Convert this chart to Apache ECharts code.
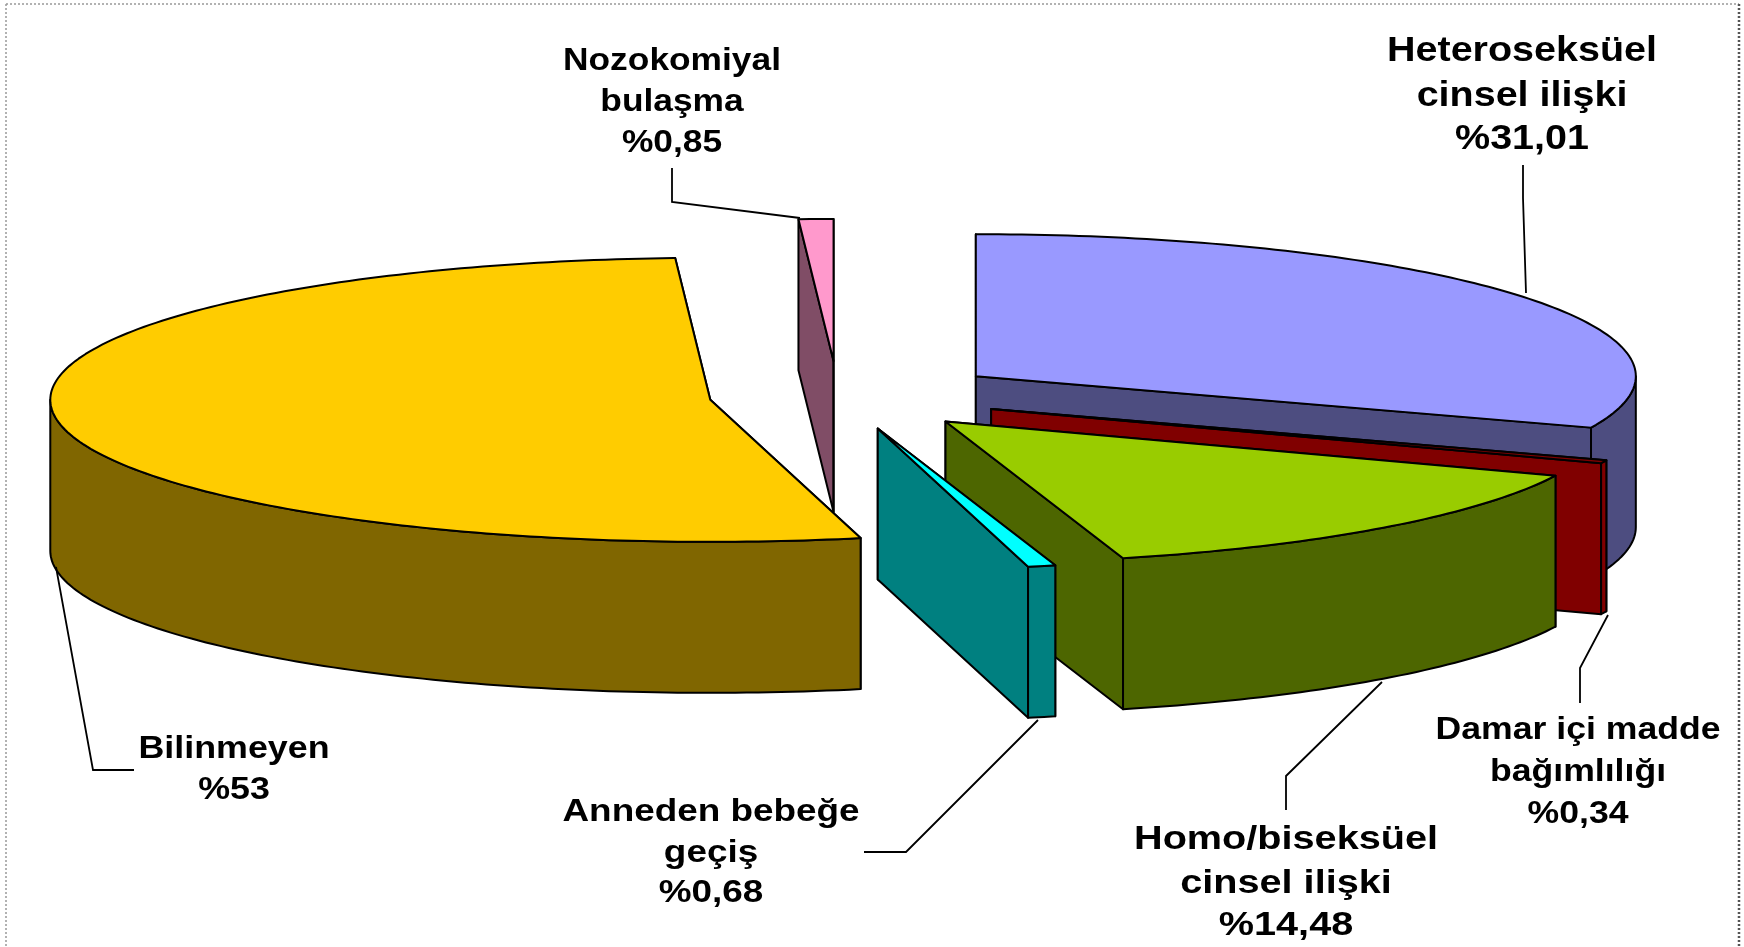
<!DOCTYPE html>
<html><head><meta charset="utf-8">
<style>html,body{margin:0;padding:0;background:#fff}#c{width:1744px;height:947px}</style>
<script src="https://cdn.jsdelivr.net/npm/echarts@6/dist/echarts.min.js"></script>
</head><body><div id="c"></div>
<script>
// ---- data (pie order, clockwise from 12 o'clock) ----
const categories = ['Heteroseksüel cinsel ilişki','Damar içi madde bağımlılığı','Homo/biseksüel cinsel ilişki','Anneden bebeğe geçiş','Bilinmeyen','Nozokomiyal bulaşma'];
const shares = [31.01, 0.34, 14.48, 0.68, 53, 0.85];
const labelLines = [
  ['Heteroseksüel','cinsel ilişki','%31,01'],
  ['Damar içi madde','bağımlılığı','%0,34'],
  ['Homo/biseksüel','cinsel ilişki','%14,48'],
  ['Anneden bebeğe','geçiş','%0,68'],
  ['Bilinmeyen','%53'],
  ['Nozokomiyal','bulaşma','%0,85']
];
// ---- styles ----
const topColors  = ['#9999FF','#800000','#99CC00','#00FFFF','#FFCC00','#FF99CC'];
const sideColors = ['#4D4D80','#800000','#4D6600','#008080','#806600','#804D66'];
// ---- layout ----
const pie = {cx:838, cy:396, rx:660, ry:142, depth:151, squash:0.21, stroke:'#000', lw:2};
const explode = [167,165,162,160,129,167];
const labelLayout = [
  {x:1522, ys:[51,96,139],   size:35, width:270},
  {x:1578, ys:[730,772,814], size:31, width:285},
  {x:1286, ys:[840,884,926], size:33, width:304},
  {x:711,  ys:[812,853,893], size:31, width:297},
  {x:234,  ys:[749,790],     size:31, width:191},
  {x:672,  ys:[61,102,143],  size:31, width:218}
];
const leaders = [
  [[1523,165],[1523,198],[1526,293]],
  [[1608,615],[1580,668],[1580,703]],
  [[1382,682],[1286,776],[1286,810]],
  [[1038,720],[906,852],[864,852]],
  [[56,567],[93,770],[134,770]],
  [[672,168],[672,202],[800,218]]
];
const FONT = '"Liberation Sans",Arial,sans-serif';

const total = shares.reduce((a,b)=>a+b,0);
const rad = d=>d*Math.PI/180;
let acc = 0;
const spans = shares.map(v=>{const s=acc/total*360; acc+=v; return [s, acc/total*360];});

function slicePieces(i){
  const [a0,a1] = spans[i], mid = rad((a0+a1)/2);
  const ox = pie.cx + explode[i]*Math.sin(mid);
  const oy = pie.cy - explode[i]*pie.squash*Math.cos(mid);
  const P = (deg,dz)=>[ox+pie.rx*Math.sin(rad(deg)), oy-pie.ry*Math.cos(rad(deg))+(dz||0)];
  const apex=[ox,oy], apexB=[ox,oy+pie.depth];
  const poly=(points,fill)=>({type:'polygon',shape:{points},silent:true,
    style:{fill,stroke:pie.stroke,lineWidth:pie.lw,lineJoin:'round'}});
  const kids=[];
  kids.push(poly([apex,P(a0),P(a0,pie.depth),apexB],sideColors[i]));
  kids.push(poly([apex,P(a1),P(a1,pie.depth),apexB],sideColors[i]));
  const w0=Math.max(a0,90), w1=Math.min(a1,270);
  if(w1>w0){
    const front=[],back=[];
    for(let d=w0;;d+=1){const q=Math.min(d,w1);front.push(P(q));back.unshift(P(q,pie.depth));if(q>=w1)break;}
    kids.push(poly(front.concat(back),sideColors[i]));
  }
  const top=[apex];
  for(let d=a0;;d+=1){const q=Math.min(d,a1);top.push(P(q));if(q>=a1)break;}
  kids.push(poly(top,topColors[i]));
  return kids;
}

const measure=document.createElement('canvas').getContext('2d');
const graphics=[];
leaders.forEach(pts=>graphics.push({type:'polyline',shape:{points:pts},silent:true,z:5,
  style:{fill:null,stroke:'#000',lineWidth:1.8}}));
labelLines.forEach((lines,i)=>{
  const L=labelLayout[i], font='bold '+L.size+'px '+FONT;
  measure.font=font;
  const sx=L.width/measure.measureText(lines[0]).width;
  lines.forEach((t,k)=>graphics.push({type:'text',x:L.x,y:L.ys[k],scaleX:sx,silent:true,z:6,
    style:{text:t,font,fill:'#000',align:'center',verticalAlign:'middle'}}));
});
// dotted frame
[[[6,4],[1739,4]],[[6,4],[6,947]],[[1739,4],[1739,947]]].forEach((pts,k)=>graphics.push({type:'polyline',shape:{points:pts},silent:true,
  style:{fill:null,stroke:k===2?'#555':'#999',lineWidth:k===2?2.5:1.5,lineDash:[2,2]}}));

const chart=echarts.init(document.getElementById('c'),null,{renderer:'canvas',width:1744,height:947});
chart.setOption({
  backgroundColor:'#fff',
  animation:false,
  graphic:{elements:graphics},
  series:[{
    type:'custom',coordinateSystem:'none',silent:true,z:2,
    data:shares.map((v,i)=>({name:categories[i],value:v})),
    renderItem:(params)=>({type:'group',children:slicePieces(params.dataIndex)})
  }]
});
</script></body></html>
